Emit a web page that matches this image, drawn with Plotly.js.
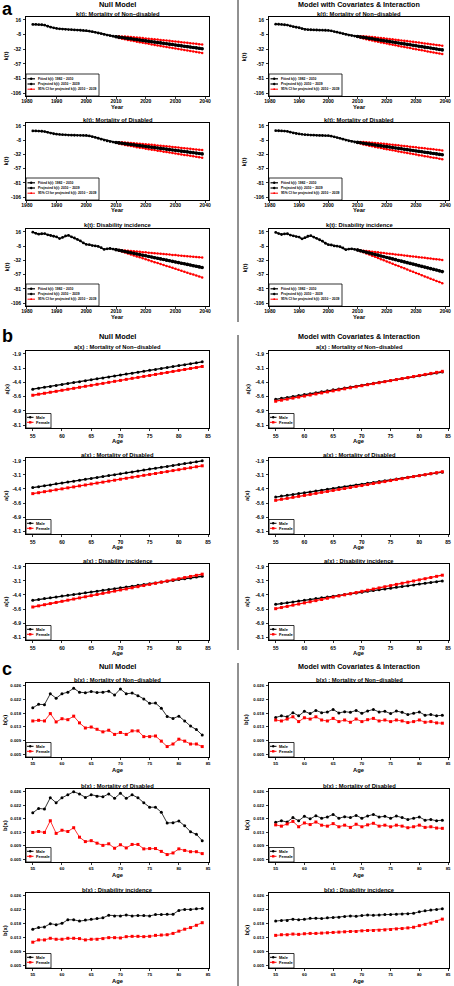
<!DOCTYPE html>
<html><head><meta charset="utf-8">
<script src="https://cdn.plot.ly/plotly-3.0.1.min.js"></script>
<style>html,body{margin:0;padding:0;background:#fff}#chart{width:454px;height:986px}</style>
</head><body><div id="chart"></div>
<script>
// ---------------- DATA ----------------
const yearsFit = [1982,1983,1984,1985,1986,1987,1988,1989,1990,1991,1992,1993,1994,1995,1996,1997,1998,1999,2000,2001,2002,2003,2004,2005,2006,2007,2008,2009,2010];
const yearsProj = [2010,2011,2012,2013,2014,2015,2016,2017,2018,2019,2020,2021,2022,2023,2024,2025,2026,2027,2028,2029,2030,2031,2032,2033,2034,2035,2036,2037,2038,2039];
const ages = [55,56,57,58,59,60,61,62,63,64,65,66,67,68,69,70,71,72,73,74,75,76,77,78,79,80,81,82,83,84];

const yearTicks = [1980,1990,2000,2010,2020,2030,2040];
const kTickVals = [16,-8.4,-32.8,-57.2,-81.6,-106];
const kTickText = ['16','-8','-32','-57','-81','-106'];
const ageTicks = [55,60,65,70,75,80,85];
const aTickVals = [-1.9,-3.14,-4.38,-5.62,-6.86,-8.1];
const aTickText = ['-1.9','-3.1','-4.4','-5.6','-6.9','-8.1'];
const bTickVals = [0.0262,0.0219,0.0176,0.0134,0.0091,0.0048];
const bTickText = ['0.026','0.022','0.018','0.013','0.009','0.005'];

// k(t) Null model, Mortality of Non-disabled
const kFitNullND = [8.5,8.6,8.3,8.0,7.3,5.5,4.0,2.8,1.8,1.2,0.8,0.4,0.0,-0.3,-0.6,-0.9,-1.2,-1.5,-1.8,-2.6,-3.6,-4.6,-5.8,-7.0,-8.2,-9.3,-10.3,-11.2,-12.0];
const kProjNullND = [-12.0,-12.7,-13.4,-14.1,-14.8,-15.4,-16.1,-16.8,-17.5,-18.2,-18.9,-19.6,-20.3,-21.0,-21.7,-22.3,-23.0,-23.7,-24.4,-25.1,-25.8,-26.5,-27.2,-27.9,-28.6,-29.2,-29.9,-30.6,-31.3,-32.0];
const kUpNullND = [-12.0,-11.4,-11.6,-11.8,-12.2,-12.5,-12.9,-13.4,-13.8,-14.3,-14.8,-15.3,-15.8,-16.3,-16.8,-17.3,-17.8,-18.3,-18.9,-19.4,-20.0,-20.5,-21.1,-21.7,-22.2,-22.7,-23.3,-23.8,-24.4,-25.0];
const kLoNullND = [-12.0,-14.0,-15.2,-16.4,-17.4,-18.3,-19.3,-20.2,-21.2,-22.1,-23.0,-23.9,-24.8,-25.7,-26.6,-27.3,-28.2,-29.1,-29.9,-30.8,-31.6,-32.5,-33.3,-34.1,-35.0,-35.7,-36.5,-37.4,-38.2,-39.0];
// k(t) Null model, Mortality of Disabled
const kFitNullD = [7.4,7.3,7.1,6.8,6.3,5.0,3.6,2.5,1.8,1.3,0.9,0.6,0.3,0.1,-0.1,-0.2,-0.3,-0.4,-0.4,-1.3,-2.5,-3.8,-5.2,-6.8,-8.4,-9.8,-10.9,-11.8,-12.5];
const kProjNullD = [-12.5,-13.2,-13.8,-14.5,-15.2,-15.9,-16.5,-17.2,-17.9,-18.5,-19.2,-19.9,-20.6,-21.2,-21.9,-22.6,-23.3,-23.9,-24.6,-25.3,-25.9,-26.6,-27.3,-28.0,-28.6,-29.3,-30.0,-30.6,-31.3,-32.0];
const kUpNullD = [-12.5,-12.0,-12.1,-12.4,-12.8,-13.2,-13.6,-14.0,-14.5,-14.9,-15.4,-15.9,-16.4,-16.9,-17.4,-18.0,-18.5,-19.0,-19.5,-20.1,-20.5,-21.1,-21.7,-22.2,-22.7,-23.3,-23.9,-24.4,-24.9,-25.5];
const kLoNullD = [-12.5,-14.4,-15.5,-16.6,-17.6,-18.6,-19.4,-20.4,-21.3,-22.1,-23.0,-23.9,-24.8,-25.5,-26.4,-27.2,-28.1,-28.8,-29.7,-30.5,-31.3,-32.1,-32.9,-33.8,-34.5,-35.3,-36.1,-36.8,-37.7,-38.5];
// k(t) Null model, Disability incidence
const kFitNullI = [15.4,13.5,12.0,12.8,13.0,11.0,9.8,8.5,7.4,4.5,6.5,9.0,10.0,7.5,5.5,3.0,0.5,-3.0,-5.5,-6.0,-7.5,-8.0,-9.0,-11.0,-14.0,-13.0,-12.5,-13.5,-14.5];
const kProjNullI = [-14.5,-15.6,-16.6,-17.7,-18.7,-19.8,-20.8,-21.9,-22.9,-24.0,-25.0,-26.1,-27.1,-28.2,-29.2,-30.3,-31.3,-32.4,-33.4,-34.5,-35.5,-36.6,-37.6,-38.7,-39.7,-40.8,-41.9,-42.9,-44.0,-45.0];
const kUpNullI = [-14.5,-15.0,-15.4,-15.9,-16.4,-16.9,-17.3,-17.8,-18.2,-18.7,-19.1,-19.7,-20.1,-20.6,-21.0,-21.5,-21.9,-22.4,-22.9,-23.4,-23.8,-24.3,-24.7,-25.2,-25.6,-26.1,-26.7,-27.1,-27.6,-28.0];
const kLoNullI = [-14.5,-16.2,-17.8,-19.5,-21.0,-22.7,-24.3,-26.0,-27.6,-29.3,-30.9,-32.5,-34.1,-35.8,-37.4,-39.1,-40.7,-42.4,-43.9,-45.6,-47.2,-48.9,-50.5,-52.2,-53.8,-55.5,-57.1,-58.7,-60.4,-62.0];
// k(t) Covariates model, Mortality of Non-disabled
const kFitCovND = [9.0,8.8,8.5,8.0,7.4,6.0,4.8,3.8,3.0,1.5,0.2,-0.2,-0.4,-0.6,-0.8,-1.0,-1.1,-1.2,-1.3,-2.2,-3.4,-4.4,-5.6,-7.0,-8.2,-9.2,-10.1,-10.9,-11.6];
const kProjCovND = [-11.6,-12.4,-13.1,-13.9,-14.7,-15.5,-16.2,-17.0,-17.8,-18.6,-19.3,-20.1,-20.9,-21.6,-22.4,-23.2,-24.0,-24.7,-25.5,-26.3,-27.0,-27.8,-28.6,-29.4,-30.1,-30.9,-31.7,-32.5,-33.2,-34.0];
const kUpCovND = [-11.6,-11.1,-11.3,-11.6,-12.1,-12.6,-13.0,-13.6,-14.1,-14.7,-15.2,-15.8,-16.4,-16.9,-17.5,-18.2,-18.8,-19.3,-20.0,-20.6,-21.2,-21.8,-22.5,-23.2,-23.7,-24.4,-25.1,-25.7,-26.3,-27.0];
const kLoCovND = [-11.6,-13.7,-14.9,-16.2,-17.3,-18.4,-19.4,-20.4,-21.5,-22.5,-23.4,-24.4,-25.4,-26.3,-27.3,-28.2,-29.2,-30.1,-31.0,-32.0,-32.8,-33.8,-34.7,-35.6,-36.5,-37.4,-38.3,-39.3,-40.1,-41.0];
// k(t) Covariates model, Mortality of Disabled
const kFitCovD = [7.8,7.6,7.3,7.0,6.5,5.2,3.9,2.9,2.2,1.5,1.0,0.6,0.3,0.0,-0.2,-0.4,-0.5,-0.6,-0.7,-1.6,-2.8,-4.0,-5.3,-6.8,-8.3,-9.6,-10.7,-11.6,-12.3];
const kProjCovD = [-12.3,-13.0,-13.8,-14.5,-15.2,-16.0,-16.7,-17.4,-18.2,-18.9,-19.6,-20.3,-21.1,-21.8,-22.5,-23.3,-24.0,-24.7,-25.5,-26.2,-26.9,-27.7,-28.4,-29.1,-29.8,-30.6,-31.3,-32.0,-32.8,-33.5];
const kUpCovD = [-12.3,-11.6,-11.8,-12.1,-12.4,-12.9,-13.3,-13.7,-14.3,-14.7,-15.2,-15.7,-16.3,-16.8,-17.3,-17.9,-18.4,-19.0,-19.6,-20.1,-20.7,-21.3,-21.9,-22.4,-23.0,-23.6,-24.2,-24.8,-25.4,-26.0];
const kLoCovD = [-12.3,-14.4,-15.8,-16.9,-18.0,-19.1,-20.1,-21.1,-22.1,-23.1,-24.0,-24.9,-25.9,-26.8,-27.7,-28.7,-29.6,-30.4,-31.4,-32.3,-33.1,-34.1,-34.9,-35.8,-36.6,-37.6,-38.4,-39.2,-40.2,-41.0];
// k(t) Covariates model, Disability incidence
const kFitCovI = [15.0,13.0,11.5,12.5,12.8,10.5,9.2,8.0,7.0,4.0,6.0,8.5,9.5,7.0,5.0,2.5,0.0,-3.5,-6.0,-6.5,-8.0,-8.5,-9.5,-11.5,-14.5,-13.5,-13.0,-14.0,-15.0];
const kProjCovI = [-15.0,-16.3,-17.6,-18.8,-20.1,-21.4,-22.7,-23.9,-25.2,-26.5,-27.8,-29.0,-30.3,-31.6,-32.9,-34.1,-35.4,-36.7,-38.0,-39.2,-40.5,-41.8,-43.1,-44.3,-45.6,-46.9,-48.2,-49.4,-50.7,-52.0];
const kUpCovI = [-15.0,-15.6,-16.2,-16.7,-17.3,-18.0,-18.6,-19.1,-19.7,-20.3,-20.9,-21.4,-22.0,-22.6,-23.2,-23.8,-24.4,-25.0,-25.6,-26.1,-26.7,-27.3,-27.9,-28.4,-29.0,-29.7,-30.3,-30.8,-31.4,-32.0];
const kLoCovI = [-15.0,-17.0,-19.0,-20.9,-22.9,-24.8,-26.8,-28.7,-30.7,-32.7,-34.7,-36.6,-38.6,-40.6,-42.6,-44.4,-46.4,-48.4,-50.4,-52.3,-54.3,-56.3,-58.3,-60.2,-62.2,-64.1,-66.1,-68.0,-70.0,-72.0];

// a(x)
const aMaleNullND = [-4.97,-4.89,-4.81,-4.73,-4.65,-4.56,-4.48,-4.40,-4.32,-4.23,-4.15,-4.07,-3.99,-3.91,-3.82,-3.74,-3.66,-3.58,-3.50,-3.41,-3.33,-3.25,-3.17,-3.08,-3.00,-2.92,-2.84,-2.76,-2.67,-2.59];
const aFemaleNullND = [-5.50,-5.41,-5.33,-5.24,-5.16,-5.07,-4.98,-4.90,-4.81,-4.72,-4.64,-4.55,-4.47,-4.38,-4.29,-4.21,-4.12,-4.03,-3.95,-3.86,-3.78,-3.69,-3.60,-3.52,-3.43,-3.34,-3.26,-3.17,-3.09,-3.00];
const aMaleNullD = [-4.26,-4.18,-4.10,-4.02,-3.93,-3.85,-3.77,-3.69,-3.61,-3.53,-3.45,-3.36,-3.28,-3.20,-3.12,-3.04,-2.96,-2.88,-2.79,-2.71,-2.63,-2.55,-2.47,-2.39,-2.31,-2.22,-2.14,-2.06,-1.98,-1.90];
const aFemaleNullD = [-4.79,-4.71,-4.62,-4.54,-4.45,-4.37,-4.28,-4.20,-4.11,-4.03,-3.94,-3.86,-3.78,-3.69,-3.61,-3.52,-3.44,-3.35,-3.27,-3.18,-3.10,-3.02,-2.93,-2.85,-2.76,-2.68,-2.59,-2.51,-2.42,-2.34];
const aMaleNullI = [-4.85,-4.78,-4.70,-4.63,-4.56,-4.48,-4.41,-4.34,-4.27,-4.19,-4.12,-4.05,-3.97,-3.90,-3.83,-3.75,-3.68,-3.61,-3.53,-3.46,-3.39,-3.32,-3.24,-3.17,-3.10,-3.02,-2.95,-2.88,-2.80,-2.73];
const aFemaleNullI = [-5.44,-5.34,-5.24,-5.14,-5.04,-4.94,-4.84,-4.74,-4.64,-4.54,-4.44,-4.34,-4.24,-4.14,-4.04,-3.94,-3.85,-3.75,-3.65,-3.55,-3.45,-3.35,-3.25,-3.15,-3.05,-2.95,-2.85,-2.75,-2.65,-2.55];
const aMaleCovND = [-5.85,-5.77,-5.69,-5.60,-5.52,-5.44,-5.36,-5.28,-5.20,-5.11,-5.03,-4.95,-4.87,-4.79,-4.71,-4.62,-4.54,-4.46,-4.38,-4.30,-4.22,-4.13,-4.05,-3.97,-3.89,-3.81,-3.72,-3.64,-3.56,-3.48];
const aFemaleCovND = [-6.02,-5.93,-5.84,-5.75,-5.66,-5.57,-5.48,-5.39,-5.30,-5.21,-5.12,-5.03,-4.94,-4.85,-4.76,-4.67,-4.58,-4.49,-4.41,-4.32,-4.23,-4.14,-4.05,-3.96,-3.87,-3.78,-3.69,-3.60,-3.51,-3.42];
const aMaleCovD = [-5.09,-5.01,-4.94,-4.86,-4.79,-4.71,-4.64,-4.56,-4.49,-4.41,-4.34,-4.26,-4.18,-4.11,-4.03,-3.96,-3.88,-3.81,-3.73,-3.66,-3.58,-3.51,-3.43,-3.35,-3.28,-3.20,-3.13,-3.05,-2.98,-2.90];
const aFemaleCovD = [-5.38,-5.29,-5.21,-5.12,-5.03,-4.95,-4.86,-4.77,-4.68,-4.60,-4.51,-4.42,-4.34,-4.25,-4.16,-4.08,-3.99,-3.90,-3.82,-3.73,-3.64,-3.55,-3.47,-3.38,-3.29,-3.21,-3.12,-3.03,-2.95,-2.86];
const aMaleCovI = [-5.20,-5.13,-5.06,-4.99,-4.92,-4.85,-4.77,-4.70,-4.63,-4.56,-4.49,-4.42,-4.35,-4.28,-4.21,-4.13,-4.06,-3.99,-3.92,-3.85,-3.78,-3.71,-3.64,-3.57,-3.50,-3.42,-3.35,-3.28,-3.21,-3.14];
const aFemaleCovI = [-5.59,-5.49,-5.39,-5.28,-5.18,-5.08,-4.98,-4.88,-4.78,-4.67,-4.57,-4.47,-4.37,-4.27,-4.17,-4.06,-3.96,-3.86,-3.76,-3.66,-3.56,-3.45,-3.35,-3.25,-3.15,-3.05,-2.95,-2.84,-2.74,-2.64];

// b(x)
const bMaleNullND = [0.0193,0.0204,0.0203,0.0237,0.0223,0.0237,0.0242,0.0254,0.0242,0.0240,0.0244,0.0241,0.0242,0.0245,0.0233,0.0252,0.0237,0.0239,0.0231,0.0221,0.0207,0.0208,0.0192,0.0166,0.0160,0.0167,0.0152,0.0136,0.0125,0.0108];
const bFemaleNullND = [0.0152,0.0154,0.0152,0.0175,0.0149,0.0159,0.0156,0.0167,0.0146,0.0130,0.0133,0.0126,0.0118,0.0123,0.0110,0.0116,0.0110,0.0121,0.0121,0.0103,0.0103,0.0105,0.0089,0.0072,0.0080,0.0095,0.0089,0.0080,0.0080,0.0072];
const bMaleNullD = [0.0195,0.0209,0.0207,0.0243,0.0227,0.0243,0.0252,0.0262,0.0255,0.0244,0.0252,0.0248,0.0246,0.0255,0.0241,0.0257,0.0241,0.0252,0.0243,0.0227,0.0213,0.0213,0.0197,0.0163,0.0164,0.0169,0.0154,0.0135,0.0127,0.0107];
const bFemaleNullD = [0.0133,0.0136,0.0133,0.0170,0.0130,0.0140,0.0136,0.0148,0.0118,0.0104,0.0107,0.0099,0.0092,0.0097,0.0083,0.0094,0.0084,0.0095,0.0095,0.0081,0.0082,0.0082,0.0073,0.0063,0.0068,0.0081,0.0076,0.0072,0.0072,0.0066];
const bMaleNullI = [0.0159,0.0164,0.0166,0.0176,0.0173,0.0177,0.0188,0.0188,0.0184,0.0187,0.0190,0.0192,0.0194,0.0202,0.0200,0.0200,0.0203,0.0200,0.0201,0.0201,0.0200,0.0204,0.0204,0.0205,0.0205,0.0217,0.0220,0.0220,0.0222,0.0223];
const bFemaleNullI = [0.0119,0.0126,0.0126,0.0131,0.0128,0.0128,0.0131,0.0131,0.0130,0.0126,0.0128,0.0128,0.0130,0.0133,0.0133,0.0132,0.0136,0.0137,0.0137,0.0136,0.0137,0.0140,0.0141,0.0142,0.0146,0.0153,0.0159,0.0164,0.0171,0.0179];
const bMaleCovND = [0.0163,0.0168,0.0165,0.0178,0.0168,0.0182,0.0175,0.0185,0.0178,0.0180,0.0188,0.0177,0.0181,0.0179,0.0185,0.0176,0.0183,0.0188,0.0180,0.0182,0.0175,0.0183,0.0179,0.0172,0.0176,0.0180,0.0170,0.0172,0.0168,0.0170];
const bFemaleCovND = [0.0155,0.0152,0.0158,0.0165,0.0150,0.0162,0.0158,0.0165,0.0155,0.0152,0.0160,0.0150,0.0155,0.0148,0.0158,0.0150,0.0156,0.0160,0.0152,0.0155,0.0150,0.0155,0.0152,0.0147,0.0150,0.0155,0.0148,0.0150,0.0146,0.0145];
const bMaleCovD = [0.0165,0.0170,0.0166,0.0180,0.0170,0.0184,0.0176,0.0186,0.0178,0.0182,0.0190,0.0178,0.0183,0.0180,0.0187,0.0178,0.0185,0.0190,0.0182,0.0184,0.0178,0.0185,0.0180,0.0174,0.0178,0.0182,0.0172,0.0174,0.0170,0.0172];
const bFemaleCovD = [0.0157,0.0153,0.0160,0.0168,0.0151,0.0163,0.0158,0.0166,0.0156,0.0153,0.0161,0.0151,0.0156,0.0149,0.0159,0.0151,0.0157,0.0162,0.0153,0.0156,0.0151,0.0156,0.0153,0.0148,0.0151,0.0156,0.0149,0.0151,0.0147,0.0146];
const bMaleCovI = [0.0184,0.0186,0.0186,0.0190,0.0188,0.0190,0.0193,0.0193,0.0192,0.0194,0.0195,0.0196,0.0198,0.0200,0.0199,0.0201,0.0203,0.0202,0.0203,0.0204,0.0204,0.0205,0.0206,0.0207,0.0208,0.0213,0.0216,0.0218,0.0220,0.0222];
const bFemaleCovI = [0.0140,0.0142,0.0142,0.0144,0.0143,0.0145,0.0146,0.0146,0.0147,0.0148,0.0149,0.0150,0.0151,0.0152,0.0152,0.0154,0.0155,0.0155,0.0156,0.0157,0.0158,0.0160,0.0161,0.0163,0.0165,0.0170,0.0174,0.0178,0.0183,0.0190];

const legendA = ['Fitted k(t): 1982 \u2212 2010','Projected k(t): 2010 \u2212 2039','95% CI for projected k(t): 2010 \u2212 2039'];
const legendSex = ['Male','Female'];

// ---------------- LAYOUT ----------------
const W = 454, H = 986;
const FONT = 'Liberation Sans, Arial, Helvetica, sans-serif';
const BLACK = '#000000', RED = '#FF0000';
const colPx = {L:[26,209], R:[269,449]};
const rowPx = {
  a:[[17,96],[123,200],[229,306]],
  b:[[351,428],[458,534],[564,640]],
  c:[[683,757],[789,862],[893,968]]
};
const px = v => v / W;
const py = v => 1 - v / H;

const panels = [
  {sec:'a',col:'L',row:0,title:'k(t): Mortality of Non\u2212disabled',d:[kFitNullND,kProjNullND,kUpNullND,kLoNullND]},
  {sec:'a',col:'R',row:0,title:'k(t): Mortality of Non\u2212disabled',d:[kFitCovND,kProjCovND,kUpCovND,kLoCovND]},
  {sec:'a',col:'L',row:1,title:'k(t): Mortality of Disabled',d:[kFitNullD,kProjNullD,kUpNullD,kLoNullD]},
  {sec:'a',col:'R',row:1,title:'k(t): Mortality of Disabled',d:[kFitCovD,kProjCovD,kUpCovD,kLoCovD]},
  {sec:'a',col:'L',row:2,title:'k(t): Disability incidence',d:[kFitNullI,kProjNullI,kUpNullI,kLoNullI]},
  {sec:'a',col:'R',row:2,title:'k(t): Disability incidence',d:[kFitCovI,kProjCovI,kUpCovI,kLoCovI]},
  {sec:'b',col:'L',row:0,title:'a(x) : Mortality of Non\u2212disabled',d:[aMaleNullND,aFemaleNullND]},
  {sec:'b',col:'R',row:0,title:'a(x) : Mortality of Non\u2212disabled',d:[aMaleCovND,aFemaleCovND]},
  {sec:'b',col:'L',row:1,title:'a(x) : Mortality of Disabled',d:[aMaleNullD,aFemaleNullD]},
  {sec:'b',col:'R',row:1,title:'a(x) : Mortality of Disabled',d:[aMaleCovD,aFemaleCovD]},
  {sec:'b',col:'L',row:2,title:'a(x) : Disability incidence',d:[aMaleNullI,aFemaleNullI]},
  {sec:'b',col:'R',row:2,title:'a(x) : Disability incidence',d:[aMaleCovI,aFemaleCovI]},
  {sec:'c',col:'L',row:0,title:'b(x) : Mortality of Non\u2212disabled',d:[bMaleNullND,bFemaleNullND]},
  {sec:'c',col:'R',row:0,title:'b(x) : Mortality of Non\u2212disabled',d:[bMaleCovND,bFemaleCovND]},
  {sec:'c',col:'L',row:1,title:'b(x) : Mortality of Disabled',d:[bMaleNullD,bFemaleNullD]},
  {sec:'c',col:'R',row:1,title:'b(x) : Mortality of Disabled',d:[bMaleCovD,bFemaleCovD]},
  {sec:'c',col:'L',row:2,title:'b(x) : Disability incidence',d:[bMaleNullI,bFemaleNullI]},
  {sec:'c',col:'R',row:2,title:'b(x) : Disability incidence',d:[bMaleCovI,bFemaleCovI]}
];

const secCfg = {
  a:{x:{range:[1979.7,2041.3],tickvals:yearTicks,ticktext:yearTicks.map(String)},
     y:{range:[-110.9,20.9],tickvals:kTickVals,ticktext:kTickText},
     xtitle:'Year',ytitle:'k(t)',xtOff:10.5,lblStand:-2,fs:5,ytx:[6,244]},
  b:{x:{range:[53.84,85.16],tickvals:ageTicks,ticktext:ageTicks.map(String)},
     y:{range:[-8.348,-1.652],tickvals:aTickVals,ticktext:aTickText},
     xtitle:'Age',ytitle:'a(x)',xtOff:13,lblStand:1,fs:5,ytx:[6,247]},
  c:{x:{range:[53.84,85.16],tickvals:ageTicks,ticktext:ageTicks.map(String)},
     y:{range:[0.00394,0.02706],tickvals:bTickVals,ticktext:bTickText},
     xtitle:'Age',ytitle:'b(x)',xtOff:13,lblStand:2.5,fs:4.3,ytx:[4.5,246]}
};

const axisBase = {showline:true,mirror:true,linecolor:BLACK,linewidth:1,ticks:'outside',ticklen:2,
  tickwidth:0.8,tickcolor:BLACK,showgrid:false,zeroline:false,fixedrange:true,tickmode:'array'};

const data = [];
const annotations = [];
const shapes = [];
const layout = {width:W,height:H,margin:{l:0,r:0,t:0,b:0},paper_bgcolor:'#fff',plot_bgcolor:'#fff',
  showlegend:false,font:{family:FONT,color:BLACK}};

function txt(x,y,text,size,extra){
  annotations.push(Object.assign({xref:'paper',yref:'paper',x:px(x),y:py(y),text:text,showarrow:false,
    xanchor:'center',yanchor:'middle',borderpad:0,font:{family:FONT,size:size,color:BLACK,weight:'bold'}},extra||{}));
}
function line(x0,y0,x1,y1,color,w){
  shapes.push({type:'line',xref:'paper',yref:'paper',x0:px(x0),y0:py(y0),x1:px(x1),y1:py(y1),line:{color:color,width:w}});
}
function dot(cx,cy,r,color,sym){
  shapes.push({type:sym==='square'?'rect':'circle',xref:'paper',yref:'paper',x0:px(cx-r),x1:px(cx+r),y0:py(cy+r),y1:py(cy-r),
    line:{color:color,width:0},fillcolor:color});
}

panels.forEach((p,i)=>{
  const n = i+1, s = n===1?'':String(n);
  const cfg = secCfg[p.sec];
  const cx = colPx[p.col], ry = rowPx[p.sec][p.row];
  const tf = {family:FONT,size:cfg.fs,color:BLACK,weight:'bold'};
  layout['xaxis'+s] = Object.assign({},axisBase,cfg.x,{tickfont:tf,domain:[px(cx[0]),px(cx[1])],anchor:'y'+s,ticklabelstandoff:cfg.lblStand});
  layout['yaxis'+s] = Object.assign({},axisBase,cfg.y,{tickfont:tf,domain:[py(ry[1]),py(ry[0])],anchor:'x'+s,ticklabelstandoff:1});
  const xa='x'+s, ya='y'+s;
  if(p.sec==='a'){
    const [fit,proj,up,lo]=p.d;
    data.push({type:'scatter',mode:'lines+markers',x:yearsProj,y:up,xaxis:xa,yaxis:ya,line:{color:RED,width:1},marker:{color:RED,size:2.5,symbol:'circle'}});
    data.push({type:'scatter',mode:'lines+markers',x:yearsProj,y:lo,xaxis:xa,yaxis:ya,line:{color:RED,width:1},marker:{color:RED,size:2.5,symbol:'circle'}});
    data.push({type:'scatter',mode:'lines+markers',x:yearsFit,y:fit,xaxis:xa,yaxis:ya,line:{color:BLACK,width:1.4},marker:{color:BLACK,size:2.8,symbol:'circle'}});
    data.push({type:'scatter',mode:'lines+markers',x:yearsProj,y:proj,xaxis:xa,yaxis:ya,line:{color:BLACK,width:2.4},marker:{color:BLACK,size:3.6,symbol:'circle'}});
  } else {
    const [male,female]=p.d;
    const lw = p.sec==='b'?1.3:0.8;
    data.push({type:'scatter',mode:'lines+markers',x:ages,y:male,xaxis:xa,yaxis:ya,line:{color:BLACK,width:lw},marker:{color:BLACK,size:3,symbol:'circle'}});
    data.push({type:'scatter',mode:'lines+markers',x:ages,y:female,xaxis:xa,yaxis:ya,line:{color:RED,width:lw},marker:{color:RED,size:3,symbol:'square'}});
  }
  // subplot title
  txt((cx[0]+cx[1])/2, ry[0]-3.5, p.title, 5.8);
  // axis titles
  txt((cx[0]+cx[1])/2, ry[1]+cfg.xtOff, cfg.xtitle, 5.8);
  txt(p.col==='L'?cfg.ytx[0]:cfg.ytx[1], (ry[0]+ry[1])/2, cfg.ytitle, 5.8, {textangle:-90});
  // legend
  const x0 = cx[0], yb = ry[1];
  if(p.sec==='a'){
    const w=73,h=22, rows=[4.8,10,15.2];
    shapes.push({type:'rect',xref:'paper',yref:'paper',x0:px(x0),x1:px(x0+w),y0:py(yb),y1:py(yb-h),line:{color:BLACK,width:0.8},fillcolor:'#fff'});
    const cols=[BLACK,BLACK,RED];
    legendA.forEach((t,k)=>{
      const yy=yb-h+rows[k];
      line(x0+1.5,yy,x0+9,yy,cols[k],k===2?1:1.2);
      dot(x0+5.2,yy,k===2?0.9:1.2,cols[k]);
      txt(x0+10.5,yy,t,3.3,{xanchor:'left'});
    });
  } else {
    const w=25,h=14.5, rows=[3.8,8.8];
    shapes.push({type:'rect',xref:'paper',yref:'paper',x0:px(x0),x1:px(x0+w),y0:py(yb),y1:py(yb-h),line:{color:BLACK,width:0.8},fillcolor:'#fff'});
    const cols=[BLACK,RED];
    legendSex.forEach((t,k)=>{
      const yy=yb-h+rows[k];
      line(x0+1,yy,x0+7.5,yy,cols[k],1);
      dot(x0+4.2,yy,1.2,cols[k],k===1?'square':'circle');
      txt(x0+9,yy,t,4,{xanchor:'left'});
    });
  }
});

// section headers
const secTop = {a:4.5,b:336,c:666.5};
const secLetterY = {a:9.5,b:335.5,c:668.5};
['a','b','c'].forEach(sc=>{
  txt((colPx.L[0]+colPx.L[1])/2, secTop[sc], 'Null Model', 7.4);
  txt((colPx.R[0]+colPx.R[1])/2, secTop[sc], 'Model with Covariates &amp; Interaction', 7.2);
  txt(7, secLetterY[sc], sc, 18);
});
// column dividers
line(238,0,238,322,'#222',1);
line(238,335,238,650,'#222',1);
line(238,663,238,986,'#222',1);

layout.annotations = annotations;
layout.shapes = shapes;
Plotly.newPlot('chart', data, layout, {staticPlot:true,displayModeBar:false});
</script></body></html>
